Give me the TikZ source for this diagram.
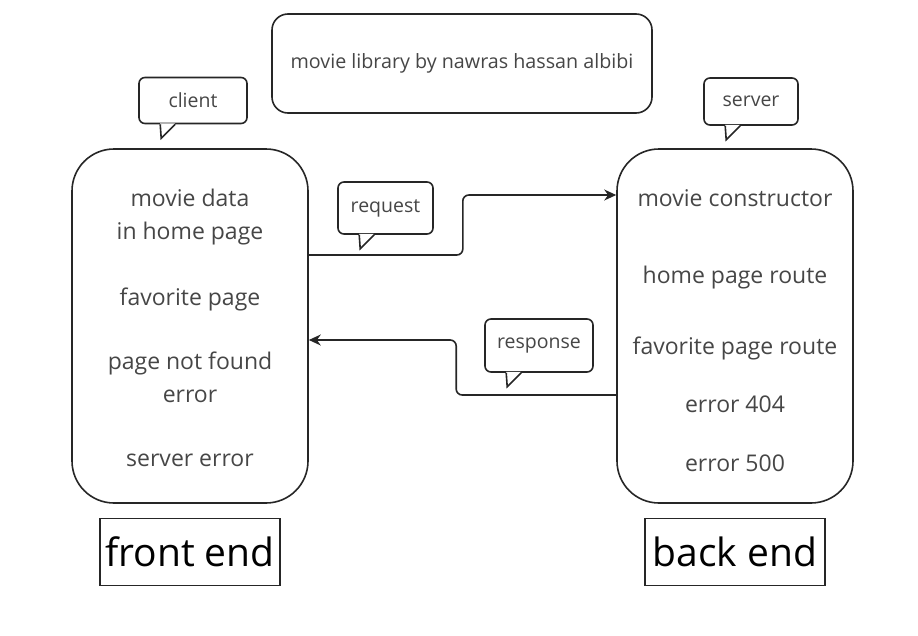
\documentclass[tikz,border=0pt]{standalone}
\usepackage{fontspec}
\setmainfont{Open Sans}
\usetikzlibrary{arrows.meta}
\definecolor{inkline}{RGB}{38,38,38}
\definecolor{inktext}{RGB}{70,70,70}
\tikzstyle{arrow} = [line width=1.6pt,draw=inkline,-{Stealth[length=12pt,width=11pt]},rounded corners=6pt]
\tikzstyle{panel} = [draw=inkline,line width=1.6pt,rounded corners=42pt,minimum width=236pt,minimum height=354pt]
\tikzstyle{bubble} = [draw=inkline,line width=1.6pt,rounded corners=6pt,fill=white,text=inktext,font=\fontsize{19.5}{22}\selectfont]
\tikzstyle{item} = [text=inktext,align=center,font=\fontsize{23}{33}\selectfont]
\tikzstyle{tag} = [draw=inkline,line width=1.6pt,inner sep=0pt,minimum width=180pt,minimum height=67pt,font=\fontsize{39}{42}\selectfont]
% tail under a speech bubble
\newcommand{\speechtail}[1]{%
  \fill[white] ([xshift=22pt,yshift=1pt]#1.south west) -- ([xshift=23pt,yshift=-14pt]#1.south west) -- ([xshift=37pt,yshift=1pt]#1.south west) -- cycle;
  \draw[draw=inkline,line width=1.6pt] ([xshift=22pt]#1.south west) -- ([xshift=23pt,yshift=-14pt]#1.south west) -- ([xshift=37pt]#1.south west);}

\begin{document}
\begin{tikzpicture}[
            x=1pt, y=-1pt,
            every node/.style={inner sep=2pt}
        ]
            \useasboundingbox (0,0) rectangle (918,635);
            % title
            \node[draw=inkline,line width=1.6pt,rounded corners=16pt,minimum width=380pt,minimum height=99pt,text=inktext,font=\fontsize{19.7}{22}\selectfont] (title) at (462,63.5) {movie library by nawras hassan albibi};
            % the two sides
            \node[panel] (front) at (190,326) {};
            \node[panel] (back) at (735,326) {};
            \node[item] (mdata) at (190,217) {movie data\\in home page};
            \node[item] (fav) at (190,299) {favorite page};
            \node[item] (notfound) at (190,377) {page not found\\error};
            \node[item] (serr) at (190,460) {server error};
            \node[item] (ctor) at (735,198) {movie constructor};
            \node[item] (hroute) at (735,278) {home page route};
            \node[item] (froute) at (735,348) {favorite page route};
            \node[item] (e404) at (735,404) {error 404};
            \node[item] (e500) at (735,463) {error 500};
            \node[tag] (fe) at (190,552) {front end};
            \node[tag] (be) at (735,552) {back end};
            % connectors
            \draw[arrow] ([yshift=71pt]front.east) -- ++(154,0) |- ([yshift=131pt]back.west);
            \draw[arrow] ([yshift=-69pt]back.west) -- ++(-160,0) |- ([yshift=-14pt]front.east);
            % speech bubbles
            \node[bubble,minimum width=108pt,minimum height=46pt] (client) at (193,100.5) {client};
            \node[bubble,minimum width=94pt,minimum height=47pt] (server) at (751,101.5) {server};
            \node[bubble,minimum width=95pt,minimum height=52pt] (req) at (385.5,208) {request};
            \node[bubble,minimum width=108pt,minimum height=53pt] (resp) at (539,345.5) {response};
            \speechtail{client}
            \speechtail{server}
            \speechtail{req}
            \speechtail{resp}
        \end{tikzpicture}
\end{document}
